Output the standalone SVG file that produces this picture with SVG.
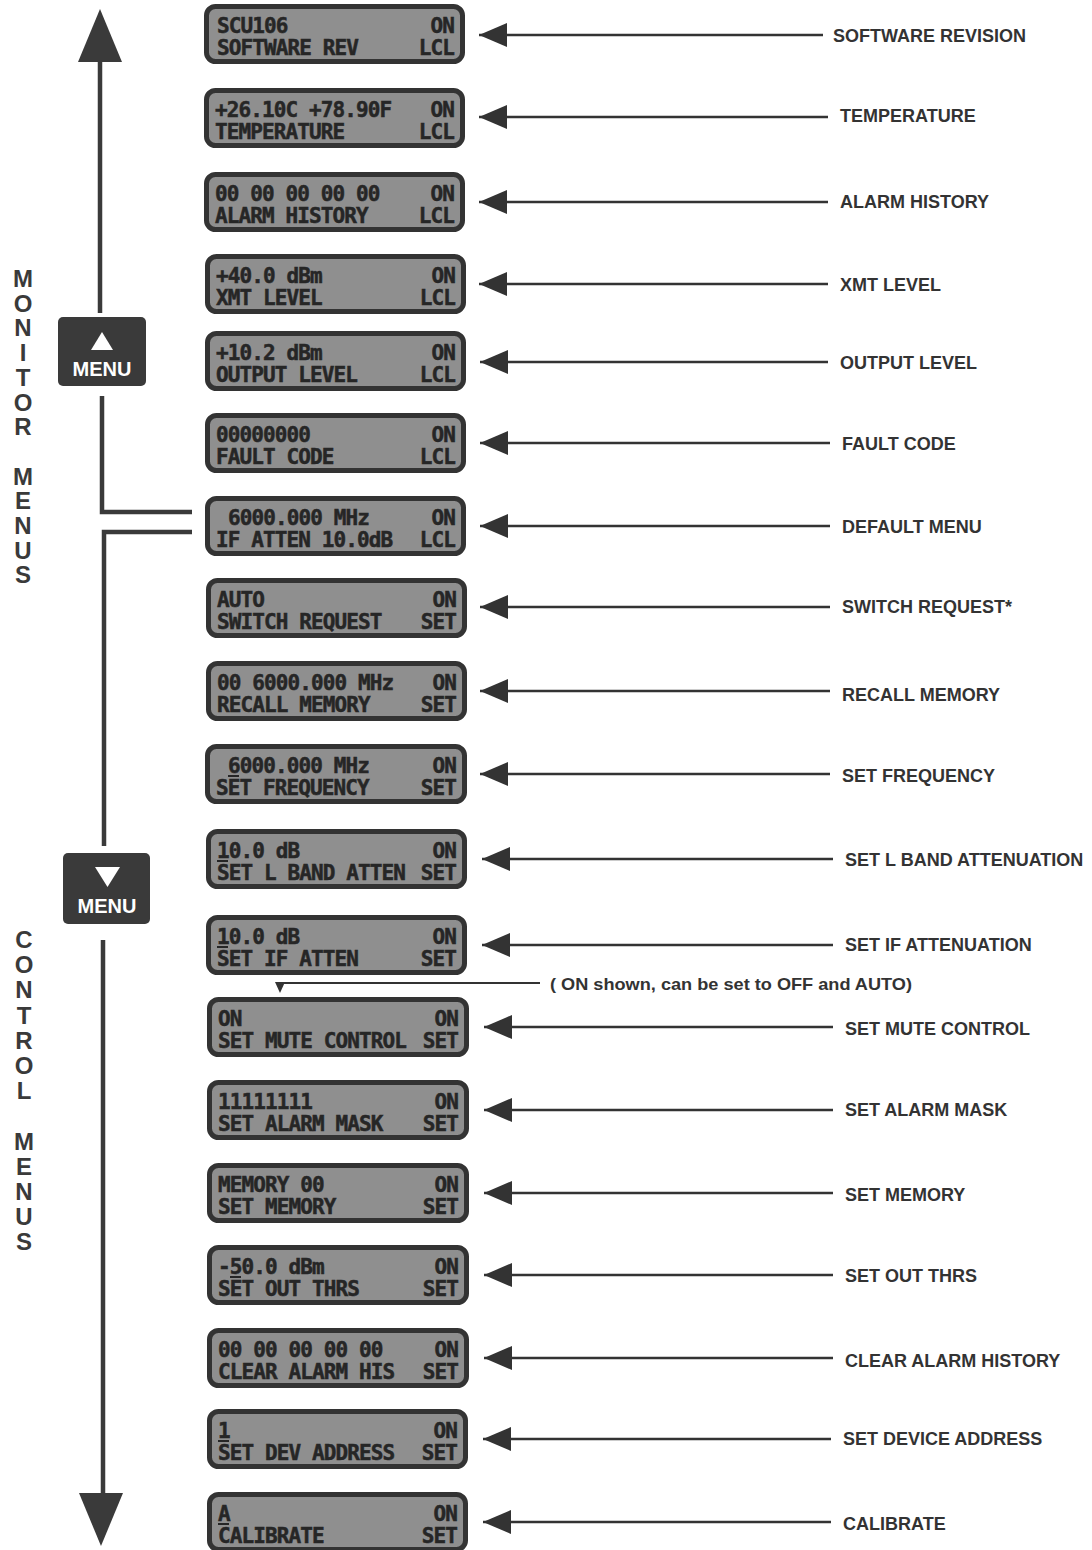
<svg xmlns="http://www.w3.org/2000/svg" width="1092" height="1550" viewBox="0 0 1092 1550">
<style>
.lcdbox{fill:#8f8f8f;stroke:#333;stroke-width:5}
.lt{font-family:"DejaVu Sans Mono","Liberation Mono",monospace;font-weight:bold;font-size:21px;fill:#262626;stroke:#262626;stroke-width:0.5;letter-spacing:-0.9px}
.r{text-anchor:end}
.cur{fill:#262626}
.lab{font-family:"Liberation Sans",Arial,sans-serif;font-weight:bold;font-size:18px;fill:#333}
.note{font-family:"Liberation Sans",Arial,sans-serif;font-weight:bold;font-size:17px;fill:#333}
.vt{font-family:"Liberation Sans",Arial,sans-serif;font-weight:bold;font-size:24px;fill:#3a3a3a;text-anchor:middle}
.con{stroke:#333;stroke-width:2.5;fill:none}
.flow{stroke:#3a3a3a;stroke-width:4.5;fill:none}
.btn{fill:#3a3a3a}
.btxt{font-family:"Liberation Sans",Arial,sans-serif;font-weight:bold;font-size:20px;fill:#fff;text-anchor:middle}
</style>
<defs>
<marker id="ah" markerUnits="userSpaceOnUse" markerWidth="28" markerHeight="24" refX="28" refY="12" orient="auto-start-reverse">
<path d="M0,0 L28,12 L0,24 Z" fill="#333"/>
</marker>
</defs>
<rect width="1092" height="1550" fill="#fff"/>

<!-- side labels -->
<g id="monitor-menus">
<text class="vt"><tspan x="23" y="287">M</tspan><tspan x="23" y="311.7">O</tspan><tspan x="23" y="336.4">N</tspan><tspan x="23" y="361.1">I</tspan><tspan x="23" y="385.8">T</tspan><tspan x="23" y="410.5">O</tspan><tspan x="23" y="435.2">R</tspan><tspan x="23" y="484.6">M</tspan><tspan x="23" y="509.3">E</tspan><tspan x="23" y="534">N</tspan><tspan x="23" y="558.7">U</tspan><tspan x="23" y="583.4">S</tspan></text>
</g>
<g id="control-menus">
<text class="vt"><tspan x="24" y="948">C</tspan><tspan x="24" y="973.2">O</tspan><tspan x="24" y="998.4">N</tspan><tspan x="24" y="1023.6">T</tspan><tspan x="24" y="1048.8">R</tspan><tspan x="24" y="1074">O</tspan><tspan x="24" y="1099.2">L</tspan><tspan x="24" y="1149.6">M</tspan><tspan x="24" y="1174.8">E</tspan><tspan x="24" y="1200">N</tspan><tspan x="24" y="1225.2">U</tspan><tspan x="24" y="1250.4">S</tspan></text>
</g>

<!-- menu buttons -->
<g id="menu-up">
<rect class="btn" x="58" y="317" width="88" height="69" rx="5"/>
<path d="M102,332 L113,350 L91,350 Z" fill="#fff"/>
<text class="btxt" x="102" y="376">MENU</text>
</g>
<g id="menu-down">
<rect class="btn" x="63" y="853" width="87" height="71" rx="5"/>
<path d="M95,867 L120,867 L107.5,887 Z" fill="#fff"/>
<text class="btxt" x="107" y="913">MENU</text>
</g>

<!-- connectors -->
<g id="connectors">
<line class="flow" x1="100" y1="60" x2="100" y2="313"/>
<path d="M100,9 L122,62 L78,62 Z" fill="#3a3a3a"/>
<path class="flow" d="M102,396 L102,512 L192,512"/>
<path class="flow" d="M192,532 L104,532 L104,846"/>
<line class="flow" x1="103" y1="940" x2="103" y2="1495"/>
<path d="M101,1546 L123,1493 L79,1493 Z" fill="#3a3a3a"/>
<line class="con" x1="479" y1="35" x2="823" y2="35" marker-start="url(#ah)"/>
<line class="con" x1="479" y1="117" x2="828" y2="117" marker-start="url(#ah)"/>
<line class="con" x1="479" y1="202" x2="828" y2="202" marker-start="url(#ah)"/>
<line class="con" x1="479" y1="284" x2="828" y2="284" marker-start="url(#ah)"/>
<line class="con" x1="480" y1="362" x2="828" y2="362" marker-start="url(#ah)"/>
<line class="con" x1="480" y1="443" x2="830" y2="443" marker-start="url(#ah)"/>
<line class="con" x1="480" y1="526" x2="830" y2="526" marker-start="url(#ah)"/>
<line class="con" x1="480" y1="607" x2="830" y2="607" marker-start="url(#ah)"/>
<line class="con" x1="480" y1="691" x2="830" y2="691" marker-start="url(#ah)"/>
<line class="con" x1="480" y1="774" x2="830" y2="774" marker-start="url(#ah)"/>
<line class="con" x1="482" y1="859" x2="833" y2="859" marker-start="url(#ah)"/>
<line class="con" x1="482" y1="945" x2="833" y2="945" marker-start="url(#ah)"/>
<line class="con" x1="484" y1="1027" x2="833" y2="1027" marker-start="url(#ah)"/>
<line class="con" x1="484" y1="1110" x2="833" y2="1110" marker-start="url(#ah)"/>
<line class="con" x1="484" y1="1193" x2="833" y2="1193" marker-start="url(#ah)"/>
<line class="con" x1="484" y1="1275" x2="833" y2="1275" marker-start="url(#ah)"/>
<line class="con" x1="484" y1="1358" x2="833" y2="1358" marker-start="url(#ah)"/>
<line class="con" x1="483" y1="1439" x2="831" y2="1439" marker-start="url(#ah)"/>
<line class="con" x1="483" y1="1522" x2="831" y2="1522" marker-start="url(#ah)"/>
<line x1="280" y1="983" x2="540" y2="983" stroke="#333" stroke-width="2"/>
<path d="M275,982 L285,982 L280,993 Z" fill="#333"/>
</g>

<!-- labels -->
<g id="labels">
<text class="lab" x="833" y="42">SOFTWARE REVISION</text>
<text class="lab" x="840" y="122">TEMPERATURE</text>
<text class="lab" x="840" y="208">ALARM HISTORY</text>
<text class="lab" x="840" y="291">XMT LEVEL</text>
<text class="lab" x="840" y="369">OUTPUT LEVEL</text>
<text class="lab" x="842" y="450">FAULT CODE</text>
<text class="lab" x="842" y="533">DEFAULT MENU</text>
<text class="lab" x="842" y="613">SWITCH REQUEST*</text>
<text class="lab" x="842" y="701">RECALL MEMORY</text>
<text class="lab" x="842" y="782">SET FREQUENCY</text>
<text class="lab" x="845" y="866">SET L BAND ATTENUATION</text>
<text class="lab" x="845" y="951">SET IF ATTENUATION</text>
<text class="lab" x="845" y="1035">SET MUTE CONTROL</text>
<text class="lab" x="845" y="1116">SET ALARM MASK</text>
<text class="lab" x="845" y="1201">SET MEMORY</text>
<text class="lab" x="845" y="1282">SET OUT THRS</text>
<text class="lab" x="845" y="1367">CLEAR ALARM HISTORY</text>
<text class="lab" x="843" y="1445">SET DEVICE ADDRESS</text>
<text class="lab" x="843" y="1530">CALIBRATE</text>
<text class="note" x="550" y="990" textLength="362" lengthAdjust="spacingAndGlyphs">( ON shown, can be set to OFF and AUTO)</text>
</g>

<!-- LCD nodes -->
<g id="n-software-rev" transform="translate(204,4)">
<rect class="lcdbox" x="2.5" y="2.5" width="256" height="55" rx="9"/>
<text class="lt" x="13" y="29">SCU106</text><text class="lt r" x="250" y="29">ON</text>
<text class="lt" x="13" y="51">SOFTWARE REV</text><text class="lt r" x="250" y="51">LCL</text>
</g>
<g id="n-temperature" transform="translate(204,88)">
<rect class="lcdbox" x="2.5" y="2.5" width="256" height="55" rx="9"/>
<text class="lt" x="11" y="29">+26.10C +78.90F</text><text class="lt r" x="250" y="29">ON</text>
<text class="lt" x="11" y="51">TEMPERATURE</text><text class="lt r" x="250" y="51">LCL</text>
</g>
<g id="n-alarm-history" transform="translate(204,172)">
<rect class="lcdbox" x="2.5" y="2.5" width="256" height="55" rx="9"/>
<text class="lt" x="11" y="29">00 00 00 00 00</text><text class="lt r" x="250" y="29">ON</text>
<text class="lt" x="11" y="51">ALARM HISTORY</text><text class="lt r" x="250" y="51">LCL</text>
</g>
<g id="n-xmt-level" transform="translate(205,254)">
<rect class="lcdbox" x="2.5" y="2.5" width="256" height="55" rx="9"/>
<text class="lt" x="11" y="29">+40.0 dBm</text><text class="lt r" x="250" y="29">ON</text>
<text class="lt" x="11" y="51">XMT LEVEL</text><text class="lt r" x="250" y="51">LCL</text>
</g>
<g id="n-output-level" transform="translate(205,331)">
<rect class="lcdbox" x="2.5" y="2.5" width="256" height="55" rx="9"/>
<text class="lt" x="11" y="29">+10.2 dBm</text><text class="lt r" x="250" y="29">ON</text>
<text class="lt" x="11" y="51">OUTPUT LEVEL</text><text class="lt r" x="250" y="51">LCL</text>
</g>
<g id="n-fault-code" transform="translate(205,413)">
<rect class="lcdbox" x="2.5" y="2.5" width="256" height="55" rx="9"/>
<text class="lt" x="11" y="29">00000000</text><text class="lt r" x="250" y="29">ON</text>
<text class="lt" x="11" y="51">FAULT CODE</text><text class="lt r" x="250" y="51">LCL</text>
</g>
<g id="n-default-menu" transform="translate(205,496)">
<rect class="lcdbox" x="2.5" y="2.5" width="256" height="55" rx="9"/>
<text class="lt" x="23" y="29">6000.000 MHz</text><text class="lt r" x="250" y="29">ON</text>
<text class="lt" x="11" y="51">IF ATTEN 10.0dB</text><text class="lt r" x="250" y="51">LCL</text>
</g>
<g id="n-switch-request" transform="translate(206,578)">
<rect class="lcdbox" x="2.5" y="2.5" width="256" height="55" rx="9"/>
<text class="lt" x="11" y="29">AUTO</text><text class="lt r" x="250" y="29">ON</text>
<text class="lt" x="11" y="51">SWITCH REQUEST</text><text class="lt r" x="250" y="51">SET</text>
</g>
<g id="n-recall-memory" transform="translate(206,661)">
<rect class="lcdbox" x="2.5" y="2.5" width="256" height="55" rx="9"/>
<text class="lt" x="11" y="29">00 6000.000 MHz</text><text class="lt r" x="250" y="29">ON</text>
<text class="lt" x="11" y="51">RECALL MEMORY</text><text class="lt r" x="250" y="51">SET</text>
</g>
<g id="n-set-frequency" transform="translate(205,744)">
<rect class="lcdbox" x="2.5" y="2.5" width="257" height="55" rx="9"/>
<text class="lt" x="23" y="29">6000.000 MHz</text><text class="lt r" x="251" y="29">ON</text>
<rect class="cur" x="23" y="31" width="11" height="2"/>
<text class="lt" x="11" y="51">SET FREQUENCY</text><text class="lt r" x="251" y="51">SET</text>
</g>
<g id="n-set-lband-atten" transform="translate(206,829)">
<rect class="lcdbox" x="2.5" y="2.5" width="256" height="55" rx="9"/>
<text class="lt" x="11" y="29">10.0 dB</text><text class="lt r" x="250" y="29">ON</text>
<rect class="cur" x="11" y="31" width="11" height="2"/>
<text class="lt" x="11" y="51">SET L BAND ATTEN</text><text class="lt r" x="250" y="51">SET</text>
</g>
<g id="n-set-if-atten" transform="translate(206,915)">
<rect class="lcdbox" x="2.5" y="2.5" width="256" height="55" rx="9"/>
<text class="lt" x="11" y="29">10.0 dB</text><text class="lt r" x="250" y="29">ON</text>
<rect class="cur" x="11" y="31" width="11" height="2"/>
<text class="lt" x="11" y="51">SET IF ATTEN</text><text class="lt r" x="250" y="51">SET</text>
</g>
<g id="n-set-mute-control" transform="translate(207,997)">
<rect class="lcdbox" x="2.5" y="2.5" width="257" height="55" rx="9"/>
<text class="lt" x="11" y="29">ON</text><text class="lt r" x="251" y="29">ON</text>
<text class="lt" x="11" y="51">SET MUTE CONTROL</text><text class="lt r" x="251" y="51">SET</text>
</g>
<g id="n-set-alarm-mask" transform="translate(207,1080)">
<rect class="lcdbox" x="2.5" y="2.5" width="257" height="55" rx="9"/>
<text class="lt" x="11" y="29">11111111</text><text class="lt r" x="251" y="29">ON</text>
<text class="lt" x="11" y="51">SET ALARM MASK</text><text class="lt r" x="251" y="51">SET</text>
</g>
<g id="n-set-memory" transform="translate(207,1163)">
<rect class="lcdbox" x="2.5" y="2.5" width="257" height="55" rx="9"/>
<text class="lt" x="11" y="29">MEMORY 00</text><text class="lt r" x="251" y="29">ON</text>
<text class="lt" x="11" y="51">SET MEMORY</text><text class="lt r" x="251" y="51">SET</text>
</g>
<g id="n-set-out-thrs" transform="translate(207,1245)">
<rect class="lcdbox" x="2.5" y="2.5" width="257" height="55" rx="9"/>
<text class="lt" x="11" y="29">-50.0 dBm</text><text class="lt r" x="251" y="29">ON</text>
<rect class="cur" x="23" y="31" width="11" height="2"/>
<text class="lt" x="11" y="51">SET OUT THRS</text><text class="lt r" x="251" y="51">SET</text>
</g>
<g id="n-clear-alarm-history" transform="translate(207,1328)">
<rect class="lcdbox" x="2.5" y="2.5" width="257" height="55" rx="9"/>
<text class="lt" x="11" y="29">00 00 00 00 00</text><text class="lt r" x="251" y="29">ON</text>
<text class="lt" x="11" y="51">CLEAR ALARM HIS</text><text class="lt r" x="251" y="51">SET</text>
</g>
<g id="n-set-dev-address" transform="translate(207,1409)">
<rect class="lcdbox" x="2.5" y="2.5" width="256" height="55" rx="9"/>
<text class="lt" x="11" y="29">1</text><text class="lt r" x="250" y="29">ON</text>
<rect class="cur" x="11" y="31" width="11" height="2"/>
<text class="lt" x="11" y="51">SET DEV ADDRESS</text><text class="lt r" x="250" y="51">SET</text>
</g>
<g id="n-calibrate" transform="translate(207,1492)">
<rect class="lcdbox" x="2.5" y="2.5" width="256" height="55" rx="9"/>
<text class="lt" x="11" y="29">A</text><text class="lt r" x="250" y="29">ON</text>
<rect class="cur" x="11" y="31" width="11" height="2"/>
<text class="lt" x="11" y="51">CALIBRATE</text><text class="lt r" x="250" y="51">SET</text>
</g>
</svg>
